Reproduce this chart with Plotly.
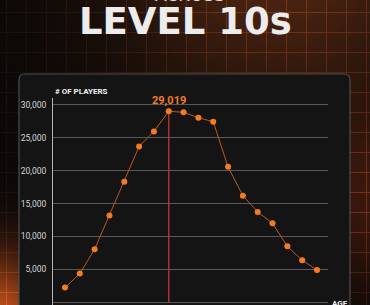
import base64, struct, zlib
import numpy as np
import plotly.graph_objects as go

# ---------------- data ----------------
ages = list(range(13, 31))
players = [2230, 4360, 8060, 13180, 18310, 23680, 25960, 29019, 28860,
           28030, 27440, 20580, 16200, 13730, 12000, 8500, 6380, 4900]
y_ticks = [0, 5000, 10000, 15000, 20000, 25000, 30000]
y_tick_labels = ["0", "5,000", "10,000", "15,000", "20,000", "25,000", "30,000"]
title_top = "ACROSS"
title_main = "LEVEL 10s"
y_title = "# OF PLAYERS"
x_title = "AGE"

W, H = 370, 305
ML, MR, MT, MB = 53, 42, 98, 0
PW, PH = W - ML - MR, H - MT - MB

# ---------------- background image (decoration) ----------------
yy, xx = np.mgrid[0:H, 0:W].astype(float)
img = np.zeros((H, W, 3))
img[:] = (10, 8, 7)
d1 = np.hypot(xx + 10, yy - 330)
g1 = np.exp(-(d1 / 70.0) ** 2)
img += g1[..., None] * np.array([200, 80, 22])
d2 = np.hypot(xx - 280, yy + 50)
g2 = np.exp(-(d2 / 160.0) ** 2)
img += g2[..., None] * np.array([70, 30, 11])
d3 = np.hypot(xx - 380, yy - 200)
g3 = np.exp(-(d3 / 90.0) ** 2)
img += g3[..., None] * np.array([45, 14, 6])
grid = ((xx.astype(int) % 20) == 6) | ((yy.astype(int) % 20) == 12)
img += grid[..., None] * np.array([14, 6, 3]) * (1 + 3 * (g1 + g2 + g3))[..., None]
img = np.clip(img, 0, 255).astype(np.uint8)


def png_uri(a):
    h, w, _ = a.shape
    raw = b"".join(b"\x00" + a[i].tobytes() for i in range(h))
    def chunk(t, d):
        c = struct.pack(">I", len(d)) + t + d
        return c + struct.pack(">I", zlib.crc32(t + d) & 0xffffffff)
    png = b"\x89PNG\r\n\x1a\n" + chunk(b"IHDR", struct.pack(">IIBBBBB", w, h, 8, 2, 0, 0, 0)) \
        + chunk(b"IDAT", zlib.compress(raw, 9)) + chunk(b"IEND", b"")
    return "data:image/png;base64," + base64.b64encode(png).decode()


def px(x):
    return (x - ML) / PW


def py(y):
    return (H - MB - y) / PH


# ---------------- figure ----------------
fig = go.Figure()

peak_i = int(np.argmax(players))
fig.add_trace(go.Scatter(
    x=[ages[peak_i], ages[peak_i]], y=[0, players[peak_i]],
    mode="lines", line=dict(color="#d2343c", width=1.2),
    hoverinfo="skip", showlegend=False))

fig.add_trace(go.Scatter(
    x=ages, y=players, mode="lines+markers",
    line=dict(color="#b85a22", width=1),
    marker=dict(color="#f47b20", size=6),
    showlegend=False, cliponaxis=False))

# panel
r = 6
x0, x1 = px(19), px(350)
y0, y1 = py(320), py(74)
rx, ry = r / PW, r / PH
path = (f"M {x0},{y0} L {x0},{y1-ry} Q {x0},{y1} {x0+rx},{y1} "
        f"L {x1-rx},{y1} Q {x1},{y1} {x1},{y1-ry} L {x1},{y0} Z")
fig.add_shape(type="path", path=path, xref="paper", yref="paper",
              fillcolor="#141414", line=dict(color="#4d4d4d", width=1.2),
              layer="below")

fig.add_layout_image(dict(source=png_uri(img), xref="paper", yref="paper",
                          x=px(0), y=py(0), sizex=W / PW, sizey=H / PH,
                          xanchor="left", yanchor="top", sizing="stretch",
                          layer="below"))

# texts
fig.add_annotation(text=title_top, xref="paper", yref="paper", x=px(190), y=py(7),
                   xanchor="center", yanchor="bottom", showarrow=False,
                   font=dict(family="DejaVu Sans", size=17, color="#e0e0e0"))
fig.add_annotation(text=f"<b>{title_main}</b>", xref="paper", yref="paper",
                   x=px(185), y=py(22), xanchor="center", yanchor="middle",
                   showarrow=False,
                   font=dict(family="DejaVu Sans", size=37, color="#ececec"))
fig.add_annotation(text=f"<b>{y_title}</b>", xref="paper", yref="paper",
                   x=px(53), y=py(91), xanchor="left", yanchor="middle",
                   showarrow=False,
                   font=dict(family="Roboto", size=8, color="#f2f2f2"))
fig.add_annotation(text=f"<b>{x_title}</b>", xref="paper", yref="paper",
                   x=px(340), y=py(303), xanchor="center", yanchor="middle",
                   showarrow=False,
                   font=dict(family="Roboto", size=8, color="#f2f2f2"))
fig.add_annotation(text=f"<b>{players[peak_i]:,}</b>", x=ages[peak_i], y=players[peak_i],
                   yshift=11, xanchor="center", yanchor="middle", showarrow=False,
                   font=dict(family="Roboto", size=11, color="#f47b20"))

fig.update_layout(
    width=W, height=H,
    margin=dict(l=ML, r=MR, t=MT, b=MB, pad=0),
    paper_bgcolor="#0a0807", plot_bgcolor="rgba(0,0,0,0)",
    xaxis=dict(range=[ages[0] - 12 / 14.82, ages[-1] + 11 / 14.82],
               showgrid=False, zeroline=False, showticklabels=False,
               showline=False, fixedrange=True),
    yaxis=dict(range=[-414, 31036], tickvals=y_ticks, ticktext=y_tick_labels,
               showgrid=True, gridcolor="#595959", gridwidth=1.2,
               zeroline=False, showline=True, linecolor="#b5b5b5", linewidth=1,
               ticks="", ticklabelstandoff=4,
               tickfont=dict(family="Roboto", size=8.5, color="#d6d6d6"),
               fixedrange=True),
    showlegend=False,
)

fig.write_html("out.html", config={"displayModeBar": False})
